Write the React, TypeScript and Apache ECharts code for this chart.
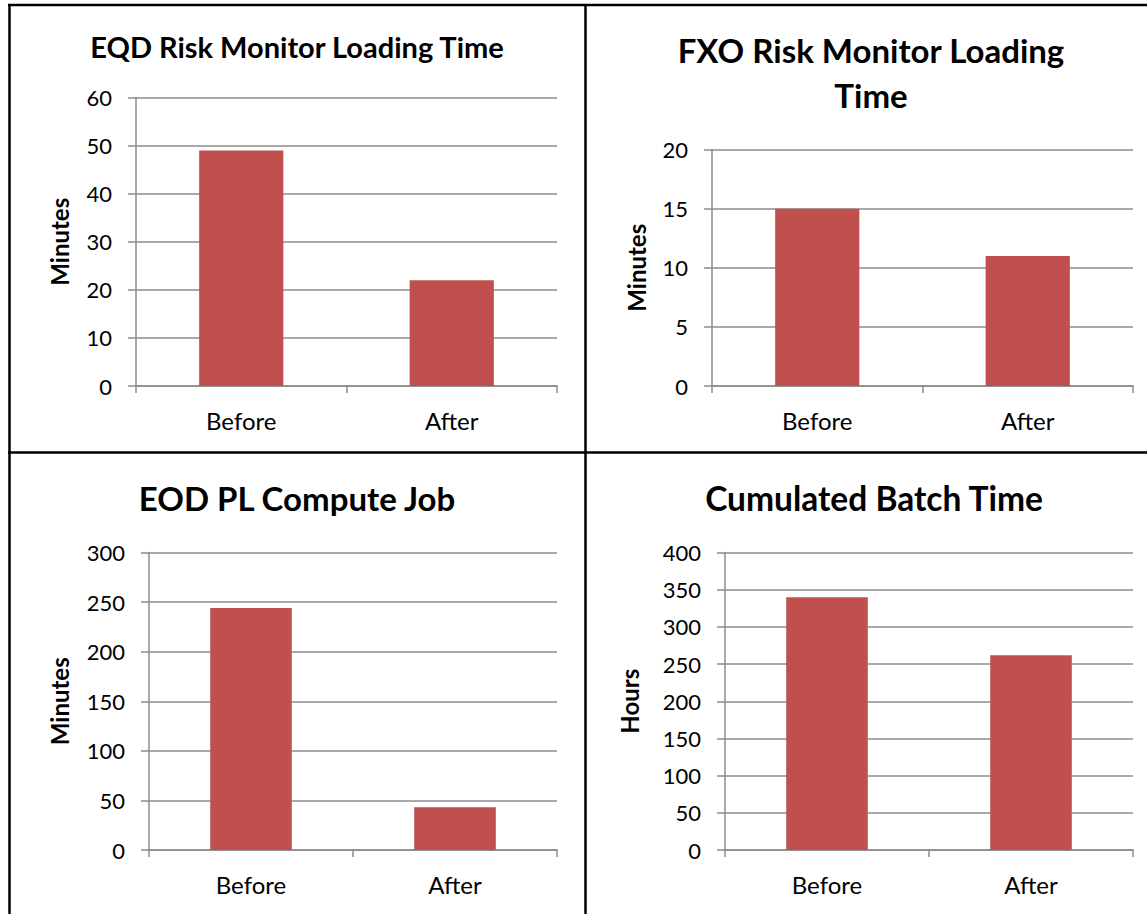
import React, { useEffect, useRef } from "react";
import * as echarts from "echarts";

const categories = ["Before", "After"];

const titles = [
  "EQD Risk Monitor Loading Time",
  "FXO Risk Monitor Loading\nTime",
  "EOD PL Compute Job",
  "Cumulated Batch Time",
];
const axisNames = ["Minutes", "Minutes", "Minutes", "Hours"];

const eqdValues = [49, 22];
const fxoValues = [15, 11];
const eodValues = [244, 43];
const batchValues = [340, 262];

const yMax = [60, 20, 300, 400];
const yInterval = [10, 5, 50, 50];

const FONT = "Lato, 'Open Sans', sans-serif";
const GRID_COLOR = "#8c8c8c";
const BAR_COLOR = "#C0504D";

// layout per panel (pixels)
const grids = [
  { left: 136, top: 97.5, width: 421, height: 288.5 },
  { left: 712, top: 149.5, width: 421, height: 236.5 },
  { left: 149, top: 552.5, width: 408, height: 297.5 },
  { left: 725, top: 552.5, width: 408, height: 297.5 },
];
const titleLayout = [
  { x: 297, top: 29, size: 29, lh: 34 },
  { x: 871, top: 27.5, size: 33, lh: 45 },
  { x: 297, top: 479, size: 33, lh: 38 },
  { x: 874, top: 479, size: 33.5, lh: 38 },
];
const nameGaps = [65, 64, 78, 84];

export default function App() {
  const ref = useRef<HTMLDivElement>(null);

  useEffect(() => {
    document.body.style.margin = "0";
    const chart = echarts.init(ref.current!, null, { renderer: "svg" });
    const seriesData = [eqdValues, fxoValues, eodValues, batchValues];

    const option: any = {
      animation: false,
      backgroundColor: "#ffffff",
      title: titles.map((t, i) => ({
        text: t,
        left: titleLayout[i].x,
        top: titleLayout[i].top,
        textAlign: "center",
        padding: 0,
        textStyle: {
          fontFamily: FONT,
          fontWeight: "bold",
          fontSize: titleLayout[i].size,
          lineHeight: titleLayout[i].lh,
          color: "#000000",
        },
      })),
      grid: grids.map((g) => ({ ...g, containLabel: false })),
      xAxis: grids.map((_, i) => ({
        type: "category",
        gridIndex: i,
        data: categories,
        axisLine: { show: true, lineStyle: { color: GRID_COLOR, width: 1.5 } },
        axisTick: { show: true, length: 7, lineStyle: { color: GRID_COLOR, width: 1.5 } },
        axisLabel: { fontFamily: FONT, fontSize: 24, color: "#000000", margin: 22 },
      })),
      yAxis: grids.map((_, i) => ({
        type: "value",
        gridIndex: i,
        min: 0,
        max: yMax[i],
        interval: yInterval[i],
        name: axisNames[i],
        nameLocation: "middle",
        nameRotate: 90,
        nameGap: nameGaps[i],
        nameTextStyle: { fontFamily: FONT, fontWeight: "bold", fontSize: 24, color: "#000000" },
        axisLine: { show: true, lineStyle: { color: GRID_COLOR, width: 1.5 } },
        axisTick: { show: true, length: 8, lineStyle: { color: GRID_COLOR, width: 1.5 } },
        axisLabel: { fontFamily: FONT, fontSize: 22, color: "#000000", margin: 24 },
        splitLine: { show: true, lineStyle: { color: GRID_COLOR, width: 1.5 } },
      })),
      series: seriesData.map((d, i) => ({
        type: "bar",
        xAxisIndex: i,
        yAxisIndex: i,
        data: d,
        barWidth: "40%",
        itemStyle: { color: BAR_COLOR },
      })),
      graphic: [
        { type: "line", shape: { x1: 9.5, y1: 5, x2: 9.5, y2: 914 }, style: { stroke: "#000", lineWidth: 2.5 } },
        { type: "line", shape: { x1: 8, y1: 5, x2: 1147, y2: 5 }, style: { stroke: "#000", lineWidth: 2.5 } },
        { type: "line", shape: { x1: 585.5, y1: 5, x2: 585.5, y2: 914 }, style: { stroke: "#000", lineWidth: 2.5 } },
        { type: "line", shape: { x1: 8, y1: 452.5, x2: 1147, y2: 452.5 }, style: { stroke: "#000", lineWidth: 2.5 } },
      ],
    };
    chart.setOption(option);
    return () => chart.dispose();
  }, []);

  return <div ref={ref} style={{ width: 1147, height: 914 }} />;
}
